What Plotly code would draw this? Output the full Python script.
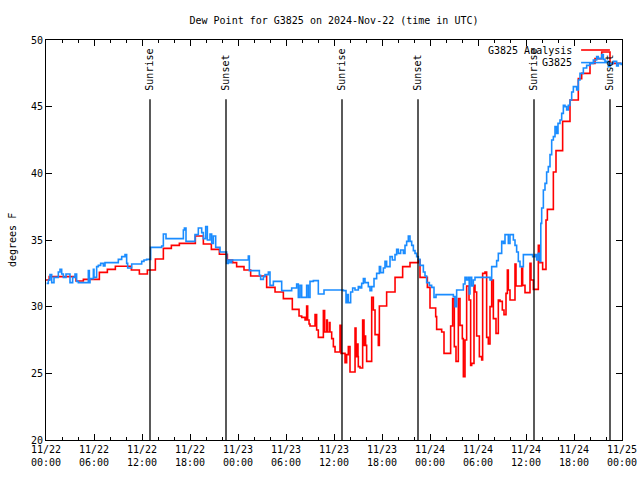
import pandas as pd
import plotly.graph_objects as go

BASE = pd.Timestamp("2024-11-22 00:00")

# ---- data: (hours since 11/22 00:00 UTC, dew point F), step changes ----
red_hours = [0.0, 0.4, 3.75, 4.67, 6.67, 7.67, 8.67, 10.67, 11.67, 12.67, 13.67, 14.67, 15.67,
             16.67, 18.67, 19.67, 20.67, 21.67, 22.67, 23.33, 23.83, 24.75, 25.58, 27.58, 28.63,
             29.67, 30.79, 31.63, 31.96, 32.38, 32.58, 32.71, 32.88, 33.0, 33.63, 33.83, 34.04,
             34.67, 34.83, 35.08, 35.17, 35.42, 35.5, 35.71, 35.92, 36.13, 36.75, 36.88, 37.38,
             37.58, 37.79, 38.0, 38.63, 38.75, 38.83, 38.92, 39.0, 39.04, 39.25, 39.58, 39.75,
             39.85, 39.95, 40.08, 40.71, 40.92, 41.13, 41.54, 41.67, 42.58, 43.63, 44.58, 45.5,
             46.54, 46.75, 47.67, 48.0, 48.71, 48.83, 49.46, 49.75, 50.58, 50.83, 51.04, 51.25,
             51.54, 51.75, 52.04, 52.17, 52.375, 52.58, 52.875, 53.08, 53.21, 53.5, 53.625,
             53.83, 54.17, 54.46, 54.58, 54.875, 55.08, 55.29, 55.5, 55.71, 55.92, 56.25, 56.54,
             56.75, 57.04, 57.25, 57.5, 57.67, 57.79, 58.0, 58.625, 58.75, 59.46, 59.58, 59.875,
             60.5, 60.625, 60.92, 61.54, 61.75, 62.08, 62.5, 62.67, 63.42, 63.75, 64.58, 65.5,
             66.54, 66.96, 68.0, 68.625, 69.46, 70.5, 71.9]
red_vals = [32.0, 32.25, 31.93, 32.05, 32.57, 32.8, 33.03, 32.75, 32.45, 32.75, 33.58, 34.37, 34.6,
            34.75, 35.3, 34.7, 34.3, 33.93, 33.5, 33.3, 33.0, 32.75, 32.3, 31.45, 31.1,
            30.6, 29.8, 29.3, 29.2, 29.0, 30.05, 29.0, 28.7, 28.55, 29.4, 28.25, 27.7,
            29.7, 28.1, 29.0, 28.1, 28.8, 28.1, 27.6, 27.0, 26.6, 28.6, 26.5, 25.8,
            26.4, 27.0, 25.1, 28.4, 26.5, 26.25, 27.2, 26.25, 25.5, 25.4, 29.0, 27.1,
            27.8, 27.1, 25.9, 30.7, 29.75, 27.9, 27.1, 30.05, 31.1, 32.2, 33.0, 33.3,
            33.5, 32.2, 31.45, 29.9, 29.25, 28.3, 28.1, 26.5, 28.55, 30.6, 27.0, 25.9,
            30.6, 28.6, 27.6, 24.75, 27.5, 31.55, 30.5, 25.6, 25.75, 31.6, 31.1,
            27.8, 26.25, 26.0, 32.5, 32.6, 27.7, 27.2, 30.0, 32.0, 29.1, 28.0, 30.5,
            30.4, 29.75, 29.4, 31.0, 32.75, 31.25, 30.5, 33.2, 31.55, 32.9, 31.6, 31.05,
            33.25, 32.0, 31.3, 34.6, 33.3, 32.8, 36.5, 37.3, 40.1, 41.7, 43.9, 45.5,
            47.1, 47.5, 48.25, 48.6, 49.1, 48.25, 48.25]

blue_hours = [0.08, 0.29, 0.5, 0.71, 1.0, 1.54, 1.75, 1.96, 2.17, 2.5, 3.0, 3.33, 3.625, 3.83, 4.04,
              5.29, 5.42, 5.5, 5.92, 6.0, 6.33, 6.54, 6.83, 7.17, 7.375, 9.04, 9.46, 9.875, 10.08,
              10.21, 10.71, 11.96, 12.25, 12.58, 13.08, 14.46, 14.67, 15.0, 17.17, 17.3, 17.5,
              18.625, 19.04, 19.46, 19.67, 19.96, 20.17, 20.5, 20.71, 20.92, 21.21, 21.75, 22.58,
              22.79, 23.0, 23.21, 25.29, 25.42, 26.67, 26.83, 27.17, 27.375, 27.79, 28.0, 28.42,
              29.46, 30.71, 31.33, 31.54, 31.75, 31.96, 32.58, 32.79, 33.0, 33.42, 34.04, 34.75,
              37.17, 37.5, 37.6, 37.79, 38.08, 38.33, 38.625, 39.04, 39.25, 39.46, 39.67, 39.875,
              40.29, 40.5, 40.71, 41.0, 41.33, 41.67, 41.83, 42.17, 42.375, 42.58, 43.0, 43.29,
              43.625, 43.83, 44.04, 44.33, 44.67, 44.875, 45.08, 45.29, 45.5, 45.71, 45.92,
              46.125, 46.33, 46.54, 46.75, 47.17, 47.375, 47.58, 47.92, 48.21, 48.5, 48.75,
              50.92, 51.125, 51.33, 52.17, 52.375, 52.58, 52.79, 52.9, 53.0, 53.21, 53.42,
              53.625, 55.5, 55.71, 56.33, 56.54, 56.96, 57.17, 57.375, 57.79, 58.0, 58.42,
              58.625, 58.83, 59.04, 59.25, 59.67, 60.83, 61.125, 61.33, 61.54, 61.75, 61.85,
              61.96, 62.17, 62.375, 62.58, 62.79, 63.0, 63.21, 63.42, 63.625, 63.83, 64.0,
              64.25, 64.46, 64.67, 64.875, 65.08, 65.29, 65.5, 65.71, 65.92, 66.33, 66.54,
              66.75, 67.17, 67.58, 68.0, 68.42, 68.83, 69.04, 69.46, 69.67, 69.875, 70.29,
              70.5, 70.92, 71.33, 71.54, 71.9]
blue_vals = [31.75, 32.0, 32.4, 31.8, 32.2, 32.6, 32.8, 32.45, 32.2, 32.45, 31.8, 32.2, 32.45, 31.9, 31.8,
             32.7, 31.8, 32.1, 32.8, 32.2, 33.0, 33.1, 33.25, 33.05, 33.3, 33.55, 33.75, 33.9, 33.25,
             32.9, 33.2, 33.4, 33.5, 33.55, 34.45, 34.55, 35.45, 35.1, 35.75, 35.9, 34.9,
             35.4, 35.9, 35.55, 35.1, 36.0, 35.0, 35.45, 34.75, 35.3, 34.45, 34.1, 33.25,
             33.5, 33.3, 33.5, 33.8, 32.7, 32.35, 32.05, 32.25, 32.4, 32.6, 31.6, 31.9,
             31.2, 31.4, 31.7, 30.7, 31.6, 30.7, 31.6, 30.7, 31.9, 31.95, 30.95, 31.25,
             31.2, 30.3, 30.9, 30.3, 31.1, 31.4, 31.25, 31.5, 31.4, 31.75, 32.1, 31.8,
             31.5, 31.2, 31.5, 32.1, 32.5, 33.0, 32.55, 32.9, 33.4, 33.0, 33.75, 33.5,
             33.9, 34.3, 34.0, 34.25, 34.0, 34.6, 34.9, 35.3, 34.9, 34.6, 34.2,
             34.0, 33.75, 33.55, 33.1, 32.6, 32.3, 31.8, 31.6, 31.45, 30.7, 30.9,
             30.75, 30.0, 31.25, 31.7, 32.2, 32.0, 32.2, 30.95, 32.2, 31.55, 32.0,
             32.2, 32.0, 33.0, 33.45, 34.0, 34.9, 34.75, 35.4, 34.75, 35.4, 35.0,
             34.6, 34.1, 33.4, 33.0, 33.9, 33.75, 33.9, 33.5, 34.0, 33.4, 36.25,
             37.4, 38.75, 39.25, 40.1, 40.5, 41.4, 42.5, 42.75, 43.5, 43.0, 43.75,
             44.0, 44.5, 45.1, 45.0, 44.75, 45.1, 45.5, 46.1, 46.5, 46.25, 47.0,
             47.5, 47.9, 48.1, 48.25, 48.5, 48.75, 48.6, 48.9, 48.55, 48.4, 48.0,
             48.25, 48.4, 48.05, 48.25, 48.1]

event_hours = [13.0, 22.5, 37.0, 46.5, 61.0, 70.5]
event_labels = ["Sunrise", "Sunset", "Sunrise", "Sunset", "Sunrise", "Sunset"]

tick_hours = [0, 6, 12, 18, 24, 30, 36, 42, 48, 54, 60, 66, 72]
tick_text = ["11/22<br>00:00", "11/22<br>06:00", "11/22<br>12:00", "11/22<br>18:00",
             "11/23<br>00:00", "11/23<br>06:00", "11/23<br>12:00", "11/23<br>18:00",
             "11/24<br>00:00", "11/24<br>06:00", "11/24<br>12:00", "11/24<br>18:00",
             "11/25<br>00:00"]

series_names = ["G3825 Analysis", "G3825"]
RED = "#ff0000"
BLUE = "#1a8cff"
FONT = "DejaVu Sans Mono"


def to_time(hours):
    return [BASE + pd.Timedelta(hours=h) for h in hours]


fig = go.Figure()
fig.add_trace(go.Scatter(x=to_time(red_hours), y=red_vals, mode="lines", line_shape="hv",
                         line=dict(color=RED, width=1.6), name=series_names[0], showlegend=False))
fig.add_trace(go.Scatter(x=to_time(blue_hours), y=blue_vals, mode="lines", line_shape="hv",
                         line=dict(color=BLUE, width=1.6), name=series_names[1], showlegend=False))

shapes = []
annotations = []
for h, lab in zip(event_hours, event_labels):
    t = BASE + pd.Timedelta(hours=h)
    shapes.append(dict(type="line", xref="x", yref="y", x0=t, x1=t, y0=20, y1=45.55,
                       line=dict(color="black", width=1.3)))
    annotations.append(dict(x=t, y=46.05, xref="x", yref="y", text=lab, showarrow=False,
                            textangle=-90, xanchor="center", yanchor="bottom",
                            font=dict(family=FONT, size=10, color="black")))

# gnuplot-style legend (text right-aligned, line sample to the right)
legend_rows = [(series_names[0], RED, 0.975), (series_names[1], BLUE, 0.9435)]
for name, col, yp in legend_rows:
    annotations.append(dict(x=0.9167, y=yp, xref="paper", yref="paper", text=name,
                            showarrow=False, xanchor="right", yanchor="middle",
                            font=dict(family=FONT, size=10, color="black")))
    shapes.append(dict(type="line", xref="paper", yref="paper", x0=0.929, x1=0.979,
                       y0=yp, y1=yp, line=dict(color=col, width=1.6)))

# y-axis title placed like gnuplot's
annotations.append(dict(x=-34 / 576, y=0.5, xref="paper", yref="paper", text="degrees F",
                        showarrow=False, textangle=-90, xanchor="center", yanchor="middle",
                        font=dict(family=FONT, size=10, color="black")))

fig.update_layout(
    width=640, height=480,
    margin=dict(l=46, r=18, t=40, b=40),
    paper_bgcolor="white", plot_bgcolor="white",
    font=dict(family=FONT, size=10, color="black"),
    title=dict(text="Dew Point for G3825 on 2024-Nov-22 (time in UTC)", x=0.5, xref="paper",
               y=1 - 20 / 480, yref="container", xanchor="center", yanchor="middle",
               font=dict(family=FONT, size=10, color="black")),
    shapes=shapes, annotations=annotations, showlegend=False,
)
fig.update_xaxes(
    range=[BASE, BASE + pd.Timedelta(hours=72)], automargin=False,
    tickmode="array", tickvals=to_time(tick_hours), ticktext=tick_text,
    ticks="inside", ticklen=6, tickwidth=1, tickcolor="black",
    showline=True, linecolor="black", linewidth=1, mirror="ticks",
    showgrid=False, zeroline=False,
    minor=dict(dtick=2 * 3600 * 1000, tick0=BASE, ticks="inside", ticklen=3,
               tickcolor="black", showgrid=False),
    tickfont=dict(family=FONT, size=10, color="black"),
)
fig.update_yaxes(
    range=[20, 50], dtick=5, tick0=20, automargin=False,
    ticks="inside", ticklen=6, tickwidth=1, tickcolor="black",
    showline=True, linecolor="black", linewidth=1, mirror="ticks",
    showgrid=False, zeroline=False,
    tickfont=dict(family=FONT, size=10, color="black"),
)

fig.write_html("out.html", config={"displayModeBar": False},
               post_script="document.body.style.margin='0';document.body.style.overflow='hidden';")
